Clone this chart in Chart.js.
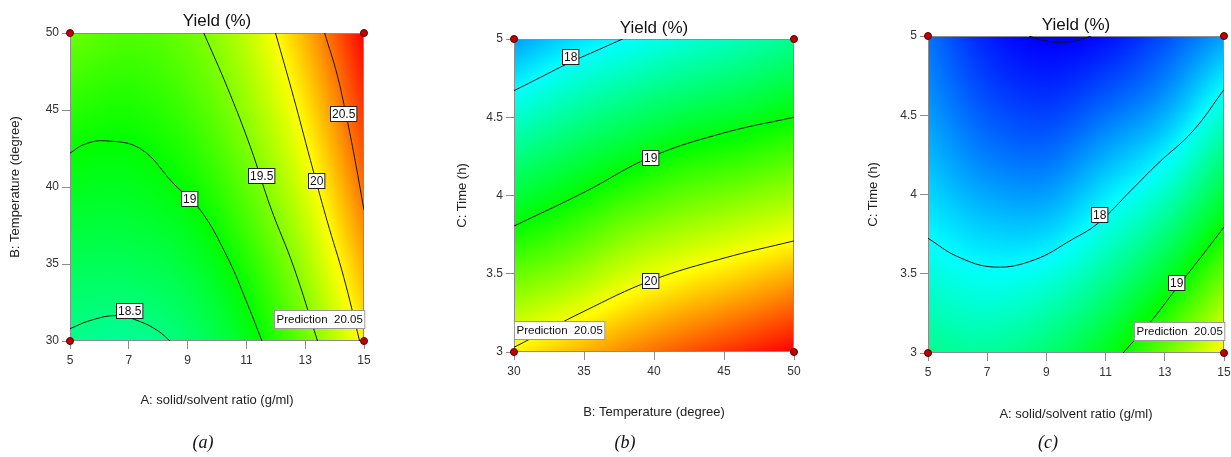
<!DOCTYPE html>
<html>
<head>
<meta charset="utf-8">
<script src="https://cdn.jsdelivr.net/npm/chart.js@4.4.1/dist/chart.umd.min.js"></script>
<style>
html,body{margin:0;padding:0;background:#fff;}
body{width:1231px;height:457px;position:relative;overflow:hidden;}
canvas{position:absolute;top:0;}
.cap{position:absolute;top:432px;line-height:20px;font-family:"Liberation Serif","DejaVu Serif",serif;font-style:italic;font-size:18px;color:#111;transform:translateX(-50%);white-space:nowrap;}
</style>
</head>
<body>
<canvas id="ca" width="410" height="457" style="left:0px"></canvas>
<canvas id="cb" width="410" height="457" style="left:410px"></canvas>
<canvas id="cc" width="411" height="457" style="left:820px"></canvas>
<div class="cap" style="left:203px">(a)</div>
<div class="cap" style="left:625px">(b)</div>
<div class="cap" style="left:1048px">(c)</div>
<script>
// ---------- data ----------
const chartTitle = 'Yield (%)';
const titleA = 'A: solid/solvent ratio (g/ml)';
const titleB = 'B: Temperature (degree)';
const titleC = 'C: Time (h)';
const captions = ['(a)', '(b)', '(c)'];

const ticksA = [5, 7, 9, 11, 13, 15];
const ticksB = [30, 35, 40, 45, 50];
const ticksC = [3, 3.5, 4, 4.5, 5];

const nodesA = [5, 7, 9, 11, 13, 15];
const nodesB = [30, 34, 38, 42, 46, 50];
const nodesC = [3, 3.4, 3.8, 4.2, 4.6, 5];

// (a) rows = B (30..50), cols = A (5..15)
const yieldAB = [
  [18.45, 18.41, 18.57, 18.90, 19.42, 20.05],
  [18.62, 18.62, 18.74, 19.07, 19.60, 20.26],
  [18.80, 18.80, 18.93, 19.28, 19.78, 20.47],
  [18.99, 18.97, 19.12, 19.46, 19.96, 20.66],
  [19.20, 19.14, 19.29, 19.62, 20.13, 20.83],
  [19.42, 19.32, 19.43, 19.76, 20.30, 21.00]
];
// (b) rows = C (3..5), cols = B (30..50)
const yieldBC = [
  [20.05, 20.26, 20.47, 20.66, 20.83, 21.00],
  [19.52, 19.70, 19.95, 20.13, 20.28, 20.45],
  [19.00, 19.20, 19.45, 19.62, 19.75, 19.88],
  [18.55, 18.75, 18.94, 19.12, 19.23, 19.37],
  [18.08, 18.30, 18.47, 18.62, 18.73, 18.88],
  [17.62, 17.85, 18.00, 18.15, 18.28, 18.43]
];
// (c) rows = C (3..5), cols = A (5..15)
const yieldAC = [
  [18.45, 18.41, 18.57, 18.90, 19.42, 20.05],
  [18.20, 18.10, 18.20, 18.50, 18.93, 19.52],
  [17.95, 17.80, 17.80, 18.10, 18.47, 19.00],
  [17.75, 17.52, 17.47, 17.72, 18.01, 18.55],
  [17.58, 17.30, 17.20, 17.36, 17.60, 18.08],
  [17.45, 17.12, 16.98, 17.05, 17.30, 17.62]
];

// contour lines
const contourAB_185 = [[5,30.8],[5.7,31.34],[6.6,31.65],[7.4,31.25],[8.0,30.65],[8.4,30.0]];
const contourAB_19  = [[5,42.2],[5.5,42.78],[6.2,43.0],[7.4,42.48],[8.53,40.2],[9.44,38.48],[10.35,35.45],[11.03,32.43],[11.53,30]];
const contourAB_195 = [[9.55,50],[10.35,46.47],[11.14,42.58],[11.82,38.69],[12.61,34.8],[13.42,30]];
const contourAB_20  = [[11.99,50],[12.61,45.8],[13.18,41.72],[13.74,37.83],[14.31,34.15],[14.85,30]];
const contourAB_205 = [[13.66,50],[14.08,47.34],[14.4,44.6],[14.68,41.9],[15,38.5]];

const contourBC_18 = [[30,4.67],[32,4.76],[34,4.85],[36,4.93],[37.76,5]];
const contourBC_19 = [[30,3.805],[35,4.02],[39.75,4.245],[45,4.40],[50,4.50]];
const contourBC_20 = [[30,3.03],[35,3.26],[39.75,3.455],[45,3.60],[50,3.71]];

const contourAC_17 = [[8.41,5],[8.9,4.972],[9.4,4.96],[9.95,4.967],[10.52,5]];
const contourAC_18 = [[5,3.724],[6.0,3.608],[7.25,3.542],[8.6,3.588],[9.84,3.713],[10.74,3.818],[11.87,4.028],[12.77,4.196],[13.95,4.40],[15,4.662]];
const contourAC_19 = [[11.59,3],[12.6,3.215],[13.4,3.41],[14.2,3.6],[15,3.795]];

// contour labels [text, x, y]
const labelsAB = [['18.5',7.02,31.99],['19',9.06,39.27],['19.5',11.5,40.73],['20',13.36,40.4],['20.5',14.28,44.77]];
const labelsBC = [['18',34.0,4.89],['19',39.75,4.245],['20',39.75,3.455]];
const labelsAC = [['18',10.78,3.871],['19',13.39,3.445]];

const predictionText = 'Prediction  20.05';
const predAB = [15, 30];
const predBC = [30, 3];
const predAC = [15, 3];

// design points (corners)
const designAB = [[5,30],[15,30],[5,50],[15,50]];
const designBC = [[30,3],[50,3],[30,5],[50,5]];
const designAC = [[5,3],[15,3],[5,5],[15,5]];

// ---------- rendering helpers ----------
const colorStops = [[0,0,255],[0,255,255],[0,255,0],[255,255,0],[255,0,0]];
const colorMin = 17, colorMax = 21;
function cmap(v){
  let t = (v - colorMin) / (colorMax - colorMin);
  t = Math.max(0, Math.min(1, t)) * 4;
  const i = Math.min(3, Math.floor(t));
  const f = t - i;
  const a = colorStops[i], b = colorStops[i+1];
  return [a[0]+(b[0]-a[0])*f, a[1]+(b[1]-a[1])*f, a[2]+(b[2]-a[2])*f];
}
function cr(p0,p1,p2,p3,t){
  return p1 + 0.5*t*((p2-p0) + t*((2*p0-5*p1+4*p2-p3) + t*(3*(p1-p2)+p3-p0)));
}
function sampleGrid(xs, ys, z, xv, yv){
  const nx = xs.length, ny = ys.length;
  const fx = (xv - xs[0]) / (xs[1] - xs[0]);
  const fy = (yv - ys[0]) / (ys[1] - ys[0]);
  let i = Math.floor(fx); i = Math.max(0, Math.min(nx-2, i));
  let j = Math.floor(fy); j = Math.max(0, Math.min(ny-2, j));
  const tx = fx - i, ty = fy - j;
  const g = (r, c) => {
    if (c < 0) return 2*g(r,0) - g(r,1);
    if (c > nx-1) return 2*g(r,nx-1) - g(r,nx-2);
    if (r < 0) return 2*g(0,c) - g(1,c);
    if (r > ny-1) return 2*g(ny-1,c) - g(ny-2,c);
    return z[r][c];
  };
  const col = [];
  for (let k = -1; k <= 2; k++){
    const r = j + k;
    col.push(cr(g(r,i-1), g(r,i), g(r,i+1), g(r,i+2), tx));
  }
  return cr(col[0], col[1], col[2], col[3], ty);
}

const surfacePlugin = {
  id: 'surface',
  beforeDatasetsDraw(chart){
    const o = chart.options.plugins.surface;
    const {ctx, chartArea: a, scales: {x, y}} = chart;
    const w = Math.round(a.right - a.left), h = Math.round(a.bottom - a.top);
    const off = document.createElement('canvas');
    off.width = w; off.height = h;
    const octx = off.getContext('2d');
    const img = octx.createImageData(w, h);
    for (let py = 0; py < h; py++){
      const yv = y.getValueForPixel(a.top + py + 0.5);
      for (let px = 0; px < w; px++){
        const xv = x.getValueForPixel(a.left + px + 0.5);
        const c = cmap(sampleGrid(o.xs, o.ys, o.z, xv, yv));
        const k = (py*w + px)*4;
        img.data[k] = c[0]; img.data[k+1] = c[1]; img.data[k+2] = c[2]; img.data[k+3] = 255;
      }
    }
    octx.putImageData(img, 0, 0);
    ctx.drawImage(off, a.left, a.top, w, h);
    ctx.save();
    ctx.strokeStyle = '#8c8c8c';
    ctx.lineWidth = 1;
    ctx.strokeRect(Math.round(a.left)+0.5, Math.round(a.top)+0.5, w-1, h-1);
    ctx.restore();
  }
};

const labelPlugin = {
  id: 'contourLabels',
  afterDatasetsDraw(chart){
    const o = chart.options.plugins.contourLabels;
    const {ctx, chartArea: a, scales: {x, y}} = chart;
    ctx.save();
    // title
    ctx.fillStyle = '#111';
    ctx.font = '17px "Liberation Sans", Arial, sans-serif';
    ctx.textAlign = 'center';
    ctx.textBaseline = 'alphabetic';
    ctx.fillText(o.title, (a.left + a.right)/2, a.top - o.titleGap);
    // contour labels
    ctx.font = '12px "Liberation Sans", Arial, sans-serif';
    ctx.textBaseline = 'middle';
    o.labels.forEach(([t, xv, yv]) => {
      const cx = x.getPixelForValue(xv), cy = y.getPixelForValue(yv);
      const tw = ctx.measureText(t).width + 3, th = 15;
      const bx = Math.round(cx - tw/2) + 0.5, by = Math.round(cy - th/2) + 0.5;
      ctx.fillStyle = '#fff';
      ctx.fillRect(bx, by, tw, th);
      ctx.strokeStyle = '#222';
      ctx.lineWidth = 1;
      ctx.strokeRect(bx, by, tw, th);
      ctx.fillStyle = '#111';
      ctx.textAlign = 'center';
      ctx.fillText(t, bx + tw/2, by + th/2 + 0.5);
    });
    // prediction box
    ctx.font = '11.5px "Liberation Sans", Arial, sans-serif';
    const px = x.getPixelForValue(o.pred[0]), py = y.getPixelForValue(o.pred[1]);
    const tw = ctx.measureText(o.predText).width + 4, th = 18;
    const bx = Math.round(o.predAlign === 'right' ? px - tw : px) + 0.5;
    const by = Math.round(py - 13 - th) + 0.5;
    ctx.fillStyle = '#fff';
    ctx.fillRect(bx, by, tw, th);
    ctx.strokeStyle = '#999';
    ctx.strokeRect(bx, by, tw, th);
    ctx.fillStyle = '#111';
    ctx.textAlign = 'left';
    ctx.fillText(o.predText, bx + 2, by + th/2 + 0.5);
    ctx.restore();
  }
};

const toPts = arr => arr.map(p => ({x: p[0], y: p[1]}));

function makeChart(id, cfg){
  const tickFont = {family: '"Liberation Sans", Arial, sans-serif', size: 12};
  const titleFont = {family: '"Liberation Sans", Arial, sans-serif', size: 13};
  const datasets = [{
    data: toPts(cfg.design),
    pointRadius: 3.5,
    pointBackgroundColor: '#c00000',
    pointBorderColor: '#5a0000',
    pointBorderWidth: 1,
    showLine: false,
    clip: false
  }].concat(cfg.contours.map(c => ({
    data: toPts(c),
    showLine: true,
    borderColor: '#151515',
    borderWidth: 1,
    pointRadius: 0,
    tension: 0.4,
    fill: false
  })));
  return new Chart(document.getElementById(id), {
    type: 'scatter',
    data: {datasets},
    plugins: [surfacePlugin, labelPlugin],
    options: {
      responsive: false,
      animation: false,
      events: [],
      layout: {padding: cfg.padding},
      plugins: {
        legend: {display: false},
        tooltip: {enabled: false},
        title: {display: false},
        surface: {xs: cfg.xs, ys: cfg.ys, z: cfg.z},
        contourLabels: {title: chartTitle, titleGap: cfg.titleGap, labels: cfg.labels,
          pred: cfg.pred, predText: predictionText, predAlign: cfg.predAlign}
      },
      scales: {
        x: {
          type: 'linear', min: cfg.xTicks[0], max: cfg.xTicks[cfg.xTicks.length-1],
          afterBuildTicks: s => { s.ticks = cfg.xTicks.map(v => ({value: v})); },
          afterFit: s => { s.height = cfg.xH; s.paddingLeft = 0; s.paddingRight = 0; },
          ticks: {font: tickFont, color: '#333', padding: 4, maxRotation: 0, autoSkip: false, callback: v => String(v)},
          grid: {drawOnChartArea: false, drawTicks: true, tickLength: 8, color: '#8c8c8c'},
          border: {display: false},
          title: {display: true, text: cfg.xTitle, font: titleFont, color: '#222', padding: {top: 0, bottom: cfg.xTitlePad}}
        },
        y: {
          type: 'linear', min: cfg.yTicks[0], max: cfg.yTicks[cfg.yTicks.length-1],
          afterBuildTicks: s => { s.ticks = cfg.yTicks.map(v => ({value: v})); },
          afterFit: s => { s.width = cfg.yW; s.paddingTop = 0; s.paddingBottom = 0; },
          ticks: {font: tickFont, color: '#333', padding: 3, autoSkip: false, callback: v => String(v)},
          grid: {drawOnChartArea: false, drawTicks: true, tickLength: 8, color: '#8c8c8c'},
          border: {display: false},
          title: {display: true, text: cfg.yTitle, font: titleFont, color: '#222', padding: {top: cfg.yTitlePad, bottom: 0}}
        }
      }
    }
  });
}

makeChart('ca', {
  xs: nodesA, ys: nodesB, z: yieldAB,
  xTicks: ticksA, yTicks: ticksB, xTitle: titleA, yTitle: titleB,
  contours: [contourAB_185, contourAB_19, contourAB_195, contourAB_20, contourAB_205],
  labels: labelsAB, design: designAB, pred: predAB, predAlign: 'right',
  padding: {left: 0, top: 33, right: 46, bottom: 0},
  yW: 70, xH: 116, yTitlePad: 7.2, xTitlePad: 49.2, titleGap: 7
});
makeChart('cb', {
  xs: nodesB, ys: nodesC, z: yieldBC,
  xTicks: ticksB, yTicks: ticksC, xTitle: titleB, yTitle: titleC,
  contours: [contourBC_18, contourBC_19, contourBC_20],
  labels: labelsBC, design: designBC, pred: predBC, predAlign: 'left',
  padding: {left: 0, top: 39, right: 26, bottom: 0},
  yW: 104, xH: 105, yTitlePad: 44.2, xTitlePad: 36.9, titleGap: 6
});
makeChart('cc', {
  xs: nodesA, ys: nodesC, z: yieldAC,
  xTicks: ticksA, yTicks: ticksC, xTitle: titleA, yTitle: titleC,
  contours: [contourAC_17, contourAC_18, contourAC_19],
  labels: labelsAC, design: designAC, pred: predAC, predAlign: 'right',
  padding: {left: 0, top: 36, right: 7, bottom: 0},
  yW: 108, xH: 104, yTitlePad: 45.2, xTitlePad: 34.9, titleGap: 6
});
</script>
</body>
</html>
